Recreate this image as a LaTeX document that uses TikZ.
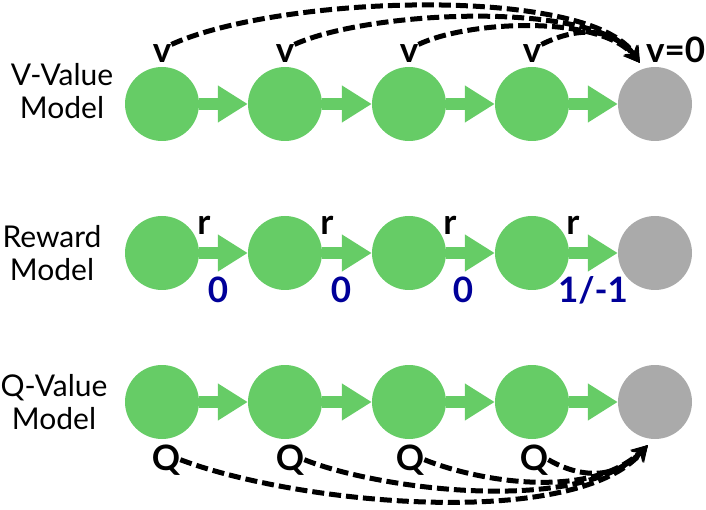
\documentclass[tikz,border=0pt]{standalone}
\usepackage{fontspec}
\setmainfont{Lato}
\usetikzlibrary{arrows.meta,positioning}
\definecolor{stategreen}{HTML}{66CC66}
\definecolor{stategray}{HTML}{AAAAAA}
\definecolor{rewardblue}{HTML}{000099}
\tikzset{
  state/.style={circle, fill=stategreen, minimum size=74pt, inner sep=0pt},
  endstate/.style={state, fill=stategray},
  flow/.style={draw=stategreen, line width=12pt, -{Triangle[length=30pt,width=35pt]}},
  lab/.style={font=\fontsize{35}{38}\selectfont\bfseries, inner sep=0pt},
  rowlab/.style={align=center, font=\fontsize{30}{33}\selectfont},
  backup/.style={black, line width=5pt, dash pattern=on 12pt off 5pt, -{Stealth[length=16pt,width=17pt]}}
}

\begin{document}
\begin{tikzpicture}[x=1pt,y=-1pt]
  \useasboundingbox (0,0) rectangle (706,510);

  % V-Value row
  \node[rowlab] (vname) at (62,91) {V-Value\\Model};
  \node[state] (v1) at (162,104) {};
  \node[state] (v2) at (285,104) {};
  \node[state] (v3) at (409,104) {};
  \node[state] (v4) at (532,104) {};
  \node[endstate] (v5) at (655,104) {};
  \draw[flow] (v1) -- (v2);
  \draw[flow] (v2) -- (v3);
  \draw[flow] (v3) -- (v4);
  \draw[flow] (v4) -- (v5);
  \node[lab, above=4pt of v1] (vl1) {v};
  \node[lab, above=4pt of v2] (vl2) {v};
  \node[lab, above=4pt of v3] (vl3) {v};
  \node[lab, above=4pt of v4] (vl4) {v};
  \node[lab, anchor=base west] (vl5) at (646,63) {v=0};
  \coordinate (vtip) at (640,63);
  \draw[backup] (vl1.north east) .. controls (280,-5) and (590,-15) .. (vtip);
  \draw[backup] (vl2.north east) .. controls (370,10) and (595,0) .. (vtip);
  \draw[backup] (vl3.north east) .. controls (470,20) and (600,15) .. (vtip);
  \draw[backup] (vl4.north east) .. controls (575,28) and (610,25) .. (vtip);

  % Reward row
  \node[rowlab] (rname) at (52,253) {Reward\\Model};
  \node[state] (r1) at (162,253) {};
  \node[state] (r2) at (285,253) {};
  \node[state] (r3) at (409,253) {};
  \node[state] (r4) at (532,253) {};
  \node[endstate] (r5) at (655,253) {};
  \draw[flow] (r1) -- (r2);
  \draw[flow] (r2) -- (r3);
  \draw[flow] (r3) -- (r4);
  \draw[flow] (r4) -- (r5);
  \node[lab, anchor=base] (rl1) at (204,235) {r};
  \node[lab, anchor=base] (rl2) at (327,235) {r};
  \node[lab, anchor=base] (rl3) at (450,235) {r};
  \node[lab, anchor=base] (rl4) at (573,235) {r};
  \node[lab, rewardblue, anchor=base] (rw1) at (218,302) {0};
  \node[lab, rewardblue, anchor=base] (rw2) at (341,302) {0};
  \node[lab, rewardblue, anchor=base] (rw3) at (463,302) {0};
  \node[lab, rewardblue, anchor=base] (rw4) at (593,302) {1/-1};

  % Q-Value row
  \node[rowlab] (qname) at (54,402) {Q-Value\\Model};
  \node[state] (q1) at (162,402) {};
  \node[state] (q2) at (285,402) {};
  \node[state] (q3) at (409,402) {};
  \node[state] (q4) at (532,402) {};
  \node[endstate] (q5) at (655,402) {};
  \draw[flow] (q1) -- (q2);
  \draw[flow] (q2) -- (q3);
  \draw[flow] (q3) -- (q4);
  \draw[flow] (q4) -- (q5);
  \node[lab, anchor=base] (ql1) at (166,470) {Q};
  \node[lab, anchor=base] (ql2) at (290,470) {Q};
  \node[lab, anchor=base] (ql3) at (410,470) {Q};
  \node[lab, anchor=base] (ql4) at (534,470) {Q};
  \coordinate (qtip) at (648,445);
  \draw[backup] (ql1.east) .. controls (300,505) and (575,530) .. (qtip);
  \draw[backup] (ql2.east) .. controls (380,490) and (580,515) .. (qtip);
  \draw[backup] (ql3.east) .. controls (480,482) and (590,500) .. (qtip);
  \draw[backup] (ql4.east) .. controls (580,478) and (615,480) .. (qtip);
\end{tikzpicture}
\end{document}
